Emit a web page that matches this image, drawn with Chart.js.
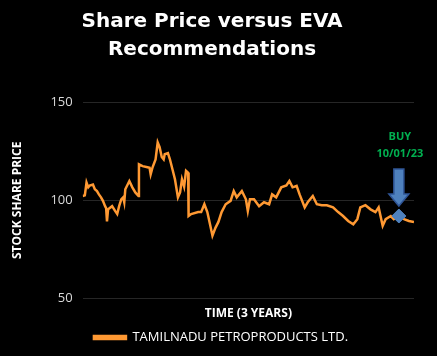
<html>
<head>
<title>Share Price versus EVA Recommendations</title>
<script src="https://cdn.jsdelivr.net/npm/chart.js@4.4.0/dist/chart.umd.min.js"></script>
<style>
    body { margin: 0; background: #000; }
    #wrap { width: 437px; height: 356px; }
</style>
</head>
<body>
<div id="wrap"><canvas id="myChart"></canvas></div>

<script>
// week index over 3 years, and the share price
const WEEKS = [0, 1, 1.8, 2.6, 3.3, 4.8, 5.7, 6.7, 7.6, 8.6, 9.5, 10.5, 11, 11.4, 11.9, 13.8, 15.2, 16.2, 17.1, 18.1, 19, 19.5,
    20, 21.9, 23.3, 24.7, 26.2, 26.4, 28.1, 30.4, 31.4, 31.9, 32.8, 34.2, 35.2, 36.1, 37.1, 38, 38.5, 40, 40.9,
    42.3, 43.3, 44.7, 45.7, 46.6, 47.6, 48.5, 49.5, 49.7, 50.9, 54.2, 55.6, 57.1, 58.5, 59.9, 60.9, 62.3, 63.7,
    65.2, 67.1, 69.4, 70.9, 72.3, 74.7, 76.6, 77.5, 78.5, 80.4, 82.8, 85.1, 87.5, 88.9, 90.8, 93.2, 95.6, 97,
    98.5, 100.4, 101.8, 104.2, 105.6, 108, 109.9, 112.2, 114.6, 117.5, 119.9, 122.2, 124.6, 127, 128.9, 130.3,
    132.7, 135.1, 137.4, 138.9, 140.8, 142.2, 144.6, 146, 148.4, 150.8, 153.1, 155.5];
const PRICES = [102.2, 102.5, 109, 106.6, 107.5, 108, 105.6, 104.7, 103, 101.5, 99.7, 97, 96, 89.3, 95.4, 97, 94.6, 93, 97, 100.5, 101.5, 99,
    105.6, 109.8, 106.6, 104, 102.2, 118.3, 117.4, 116.8, 116.5, 113.2, 116.8, 120.8, 129.4, 127, 122, 120.8, 123.4, 124, 121,
    115, 110.7, 101.5, 104, 110.7, 107, 115, 114, 92, 93, 94, 94, 98, 94, 87, 82, 86, 89,
    94, 98, 99.7, 104.7, 101.5, 104.7, 100.5, 94.6, 100.5, 100.5, 97, 99, 98, 103, 101.5, 106.6, 107.6, 109.8,
    106.6, 107.3, 103, 96.4, 99, 102.2, 98, 97.5, 97.5, 96.4, 94, 92, 89.5, 87.8, 90.4, 96.4,
    97.5, 95.4, 94, 96.4, 87, 90.4, 92, 90.4, 92, 90.4, 89.5, 89];

const SERIES_NAME = "TAMILNADU PETROPRODUCTS LTD.";
const Y_TICKS = [50, 100, 150];

// EVA buy recommendation
const BUY_WEEK = 148.4;
const BUY_PRICE = 92;
const BUY_LABEL = ["BUY", "10/01/23"];

const FONT = "Open Sans";

var buyArrow = {
    id: "buyArrow",
    afterLayout(chart) {
        // legend sits a little right of centre in the original
        chart.legend.left += 9;
        chart.legend.right += 9;
    },
    afterDatasetsDraw(chart) {
        let ctx = chart.ctx;
        let x = chart.scales.x.getPixelForValue(BUY_WEEK);
        let y = chart.scales.y.getPixelForValue(BUY_PRICE);
        let tip = y - 10, top = y - 47, headTop = y - 22;
        ctx.save();
        ctx.beginPath();
        ctx.moveTo(x - 5, top);
        ctx.lineTo(x + 5, top);
        ctx.lineTo(x + 5, headTop);
        ctx.lineTo(x + 10, headTop);
        ctx.lineTo(x, tip);
        ctx.lineTo(x - 10, headTop);
        ctx.lineTo(x - 5, headTop);
        ctx.closePath();
        ctx.fillStyle = "#4f81bd";
        ctx.strokeStyle = "#2f5597";
        ctx.lineWidth = 1.5;
        ctx.fill();
        ctx.stroke();

        ctx.fillStyle = "#00b050";
        ctx.font = "bold 11px '" + FONT + "'";
        ctx.textAlign = "center";
        ctx.textBaseline = "middle";
        ctx.fillText(BUY_LABEL[0], x + 1, top - 32);
        ctx.fillText(BUY_LABEL[1], x + 1, top - 15);
        ctx.restore();
    }
};

new Chart("myChart", {
    type: "line",
    data: {
        datasets: [{
            label: SERIES_NAME,
            data: WEEKS.map((w, i) => ({x: w, y: PRICES[i]})),
            borderColor: "#ff9933",
            backgroundColor: "#ff9933",
            borderWidth: 2.5,
            pointRadius: 0,
            tension: 0,
            fill: false,
            order: 1
        }, {
            label: "buy",
            data: [{x: BUY_WEEK, y: BUY_PRICE}],
            pointStyle: "rectRot",
            pointRadius: 7,
            backgroundColor: "#4f81bd",
            borderColor: "#4f81bd",
            showLine: false,
            order: 0
        }]
    },
    options: {
        responsive: true,
        maintainAspectRatio: false,
        animation: false,
        layout: { padding: { left: 10, right: 23, top: 8, bottom: 2 } },
        scales: {
            x: {
                type: "linear",
                min: 0,
                max: 155.5,
                ticks: { display: false },
                grid: { display: false },
                border: { display: false },
                title: {
                    display: true,
                    text: "TIME (3 YEARS)",
                    color: "#ffffff",
                    font: { family: FONT, size: 12, weight: "bold" },
                    padding: { top: 0, bottom: 1 }
                }
            },
            y: {
                min: 50,
                max: 150,
                afterBuildTicks: axis => { axis.ticks = Y_TICKS.map(v => ({value: v})); },
                ticks: {
                    color: "#d9d9d9",
                    font: { family: FONT, size: 13 },
                    padding: 10
                },
                grid: { color: "#262626", drawTicks: false },
                border: { display: false },
                title: {
                    display: true,
                    text: "STOCK SHARE PRICE",
                    color: "#ffffff",
                    font: { family: FONT, size: 12, weight: "bold" },
                    padding: { top: 0, bottom: 16 }
                }
            }
        },
        plugins: {
            title: {
                display: true,
                text: ["Share Price versus EVA", "Recommendations"],
                color: "#ffffff",
                font: { family: "DejaVu Sans", size: 20, weight: "bold", lineHeight: 1.4 },
                padding: { top: 0, bottom: 38 }
            },
            legend: {
                position: "bottom",
                labels: {
                    filter: item => item.datasetIndex === 0,
                    color: "#ffffff",
                    font: { family: FONT, size: 13 },
                    boxWidth: 32,
                    boxHeight: 3,
                    padding: 9
                }
            },
            tooltip: { enabled: false }
        }
    },
    plugins: [buyArrow]
});
</script>
</body>
</html>
